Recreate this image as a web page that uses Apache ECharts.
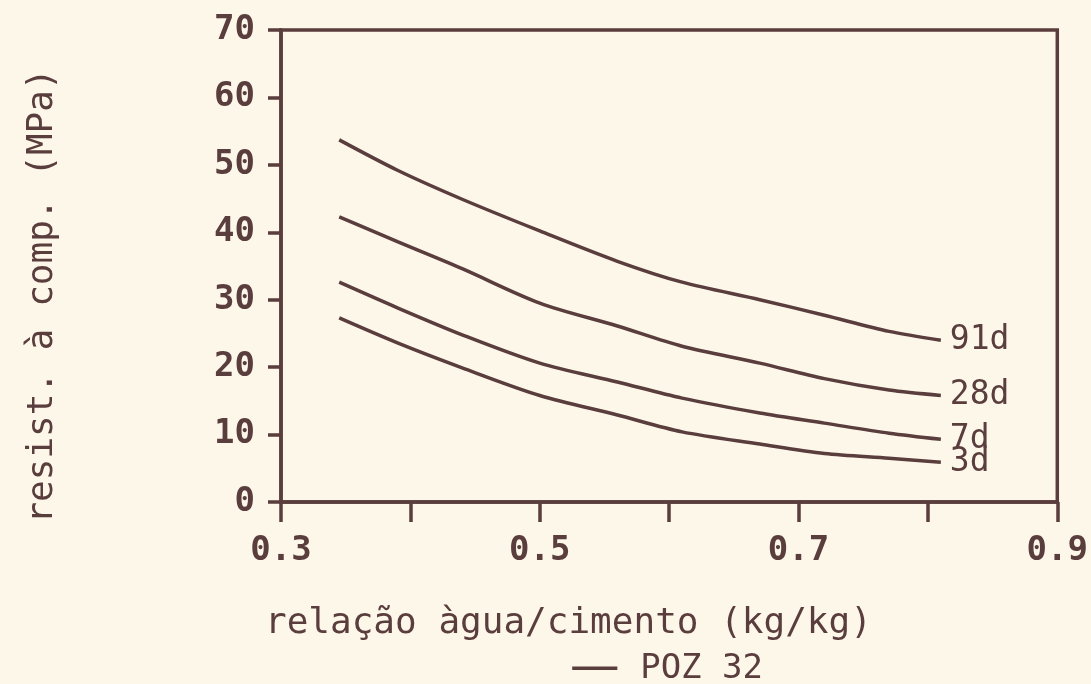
<!DOCTYPE html>
<html>
<head>
<meta charset="utf-8">
<script src="https://cdn.jsdelivr.net/npm/echarts@6/dist/echarts.min.js"></script>
<style>
  html, body { margin: 0; padding: 0; background: #fdf7ea; }
  #chart { width: 1091px; height: 684px; }
</style>
</head>
<body>
<div id="chart"></div>
<script>
// ---- data ----
const xValues = [0.345, 0.39, 0.44, 0.5, 0.56, 0.61, 0.67, 0.72, 0.77, 0.81];
const s91d = [53.7, 49.2, 44.9, 40.2, 35.7, 32.6, 30.0, 27.7, 25.3, 24.0];
const s28d = [42.3, 38.6, 34.6, 29.5, 26.1, 23.1, 20.6, 18.3, 16.6, 15.8];
const s7d  = [32.6, 28.8, 24.8, 20.6, 17.8, 15.4, 13.2, 11.7, 10.2, 9.3];
const s3d  = [27.3, 23.6, 19.9, 15.8, 12.9, 10.4, 8.6, 7.2, 6.5, 5.9];
const seriesNames = ['91d', '28d', '7d', '3d'];
const xAxisTitle = 'relação àgua/cimento (kg/kg)';
const yAxisTitle = 'resist. à comp. (MPa)';
const legendLabel = 'POZ 32';

const INK = '#5a3d3d';
const FONT = 'DejaVu Sans Mono';

const chart = echarts.init(document.getElementById('chart'));
const allSeries = [s91d, s28d, s7d, s3d];

chart.setOption({
  backgroundColor: '#fdf7ea',
  animation: false,
  grid: {
    left: 281, right: 33, top: 30, bottom: 182,
    show: true, borderColor: INK, borderWidth: 3.5, backgroundColor: 'transparent'
  },
  xAxis: {
    type: 'value', min: 0.3, max: 0.9, interval: 0.1,
    axisLine: { lineStyle: { color: INK, width: 3.5 } },
    axisTick: { show: true, length: 20, lineStyle: { color: INK, width: 3.5 } },
    splitLine: { show: false },
    axisLabel: {
      margin: 32, color: INK, fontFamily: FONT, fontSize: 34, fontWeight: 'bold',
      formatter: function (v) {
        const k = Math.round(v * 10);
        return (k % 2 === 1) ? (k / 10).toFixed(1) : '';
      }
    }
  },
  yAxis: {
    type: 'value', min: 0, max: 70, interval: 10,
    axisLine: { show: true, lineStyle: { color: INK, width: 3.5 } },
    axisTick: { show: true, length: 13, lineStyle: { color: INK, width: 3.5 } },
    splitLine: { show: false },
    axisLabel: { margin: 26, color: INK, fontFamily: FONT, fontSize: 34, fontWeight: 'bold' }
  },
  series: allSeries.map(function (vals, i) {
    return {
      name: seriesNames[i],
      type: 'line',
      smooth: 0.3,
      showSymbol: false,
      data: xValues.map(function (x, j) { return [x, vals[j]]; }),
      lineStyle: { color: INK, width: 3.5 },
      itemStyle: { color: INK },
      endLabel: {
        show: true, formatter: '{a}', distance: 9,
        color: INK, fontFamily: FONT, fontSize: 33
      }
    };
  }),
  graphic: [
    {
      type: 'text', left: 265, top: 606,
      style: { text: xAxisTitle, fill: INK, font: '36px "DejaVu Sans Mono"' }
    },
    {
      type: 'text', right: 1091 - 763, top: 644,
      style: {
        text: '{d|—} ' + legendLabel,
        fill: INK, font: '34px "DejaVu Sans Mono"',
        rich: {
          d: { fontFamily: 'DejaVu Sans', fontSize: 50, fill: INK }
        }
      }
    },
    {
      type: 'text', x: 43, y: 296, rotation: Math.PI / 2,
      style: {
        text: yAxisTitle, fill: INK, font: '36px "DejaVu Sans Mono"',
        align: 'center', verticalAlign: 'middle'
      }
    }
  ]
});
</script>
</body>
</html>
